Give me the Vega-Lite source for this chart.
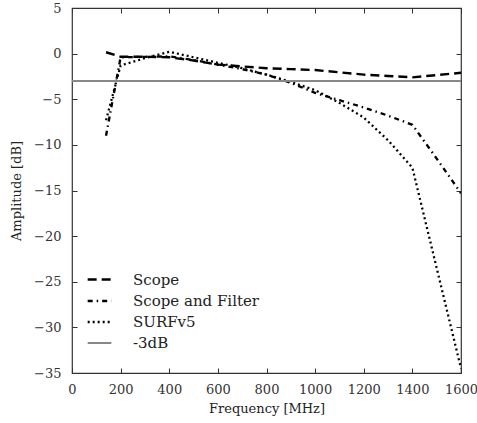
{
  "$schema": "https://vega.github.io/schema/vega-lite/v6.json",
  "width": 389,
  "height": 365,
  "autosize": "none",
  "padding": {"left": 72, "top": 8, "right": 16, "bottom": 50},
  "background": "white",
  "config": {
    "font": "DejaVu Serif",
    "view": {"stroke": "#333", "strokeWidth": 1.2},
    "axis": {"labelFont": "DejaVu Serif", "titleFont": "DejaVu Serif", "labelFontSize": 13, "titleFontSize": 13, "titleFontWeight": "normal", "labelColor": "#333", "titleColor": "#222", "grid": false, "domain": false, "tickColor": "#333", "tickSize": -5, "labelOverlap": false, "labelFlush": false, "format": "d"},
    "legend": {"labelFont": "DejaVu Serif", "labelFontSize": 15, "labelColor": "#222"}
  },
  "data": {"values": [
    {"f": 140, "v": 0.15, "s": "Scope"},
    {"f": 200, "v": -0.35, "s": "Scope"},
    {"f": 300, "v": -0.35, "s": "Scope"},
    {"f": 400, "v": -0.4, "s": "Scope"},
    {"f": 500, "v": -0.75, "s": "Scope"},
    {"f": 600, "v": -1.2, "s": "Scope"},
    {"f": 700, "v": -1.4, "s": "Scope"},
    {"f": 800, "v": -1.6, "s": "Scope"},
    {"f": 900, "v": -1.7, "s": "Scope"},
    {"f": 1000, "v": -1.8, "s": "Scope"},
    {"f": 1100, "v": -2.05, "s": "Scope"},
    {"f": 1200, "v": -2.3, "s": "Scope"},
    {"f": 1300, "v": -2.45, "s": "Scope"},
    {"f": 1400, "v": -2.6, "s": "Scope"},
    {"f": 1500, "v": -2.35, "s": "Scope"},
    {"f": 1600, "v": -2.1, "s": "Scope"},
    {"f": 140, "v": -9.0, "s": "Scope and Filter"},
    {"f": 200, "v": -0.4, "s": "Scope and Filter"},
    {"f": 300, "v": -0.35, "s": "Scope and Filter"},
    {"f": 400, "v": -0.3, "s": "Scope and Filter"},
    {"f": 500, "v": -0.7, "s": "Scope and Filter"},
    {"f": 600, "v": -1.2, "s": "Scope and Filter"},
    {"f": 700, "v": -1.7, "s": "Scope and Filter"},
    {"f": 800, "v": -2.3, "s": "Scope and Filter"},
    {"f": 900, "v": -3.2, "s": "Scope and Filter"},
    {"f": 1000, "v": -4.3, "s": "Scope and Filter"},
    {"f": 1100, "v": -5.1, "s": "Scope and Filter"},
    {"f": 1200, "v": -5.9, "s": "Scope and Filter"},
    {"f": 1300, "v": -6.8, "s": "Scope and Filter"},
    {"f": 1400, "v": -7.8, "s": "Scope and Filter"},
    {"f": 1500, "v": -11.5, "s": "Scope and Filter"},
    {"f": 1600, "v": -15.3, "s": "Scope and Filter"},
    {"f": 140, "v": -7.3, "s": "SURFv5"},
    {"f": 200, "v": -1.3, "s": "SURFv5"},
    {"f": 300, "v": -0.5, "s": "SURFv5"},
    {"f": 400, "v": 0.2, "s": "SURFv5"},
    {"f": 500, "v": -0.4, "s": "SURFv5"},
    {"f": 600, "v": -1.0, "s": "SURFv5"},
    {"f": 700, "v": -1.6, "s": "SURFv5"},
    {"f": 800, "v": -2.3, "s": "SURFv5"},
    {"f": 900, "v": -3.1, "s": "SURFv5"},
    {"f": 1000, "v": -4.0, "s": "SURFv5"},
    {"f": 1100, "v": -5.4, "s": "SURFv5"},
    {"f": 1200, "v": -7.0, "s": "SURFv5"},
    {"f": 1300, "v": -9.5, "s": "SURFv5"},
    {"f": 1400, "v": -12.5, "s": "SURFv5"},
    {"f": 1600, "v": -34.5, "s": "SURFv5"},
    {"f": 0, "v": -3, "s": "-3dB"},
    {"f": 1600, "v": -3, "s": "-3dB"}
  ]},
  "layer": [
    {
      "mark": {"type": "line", "clip": true},
      "encoding": {
        "x": {"field": "f", "type": "quantitative", "scale": {"domain": [0, 1600], "nice": false, "zero": false}, "axis": {"title": "Frequency [MHz]", "values": [0, 200, 400, 600, 800, 1000, 1200, 1400, 1600], "labelPadding": 15, "titlePadding": 6}},
        "y": {"field": "v", "type": "quantitative", "scale": {"domain": [-35, 5], "nice": false, "zero": false}, "axis": {"title": "Amplitude [dB]", "values": [-35, -30, -25, -20, -15, -10, -5, 0, 5], "labelPadding": 16, "titlePadding": 10}},
        "detail": {"field": "s"},
        "color": {"field": "s", "type": "nominal", "scale": {"domain": ["Scope", "Scope and Filter", "SURFv5", "-3dB"], "range": ["#000000", "#000000", "#000000", "#888888"]}, "legend": {"title": null, "orient": "none", "legendX": 14, "legendY": 258, "symbolType": "stroke", "symbolSize": 560, "rowPadding": 0, "labelOffset": 20, "symbolStrokeWidth": 2.2}},
        "strokeDash": {"field": "s", "type": "nominal", "scale": {"domain": ["Scope", "Scope and Filter", "SURFv5", "-3dB"], "range": [[9, 5], [5, 4, 1.5, 4], [2, 3], [1, 0]]}, "legend": {"title": null, "orient": "none", "legendX": 14, "legendY": 258, "symbolType": "stroke", "symbolSize": 560, "rowPadding": 0, "labelOffset": 20, "symbolStrokeWidth": 2.2}},
        "strokeWidth": {"field": "s", "type": "nominal", "scale": {"domain": ["Scope", "Scope and Filter", "SURFv5", "-3dB"], "range": [2.4, 2.2, 2, 1]}, "legend": {"title": null, "orient": "none", "legendX": 14, "legendY": 258, "symbolType": "stroke", "symbolSize": 560, "rowPadding": 0, "labelOffset": 20}}
      }
    },
    {
      "mark": {"type": "point", "opacity": 0},
      "encoding": {
        "x": {"field": "f", "type": "quantitative", "scale": {"domain": [0, 1600], "nice": false, "zero": false}, "axis": {"orient": "top", "labels": false, "title": null, "values": [0, 200, 400, 600, 800, 1000, 1200, 1400, 1600]}},
        "y": {"field": "v", "type": "quantitative", "scale": {"domain": [-35, 5], "nice": false, "zero": false}, "axis": {"orient": "right", "labels": false, "title": null, "values": [-35, -30, -25, -20, -15, -10, -5, 0, 5]}}
      }
    }
  ],
  "resolve": {"axis": {"x": "independent", "y": "independent"}}
}
